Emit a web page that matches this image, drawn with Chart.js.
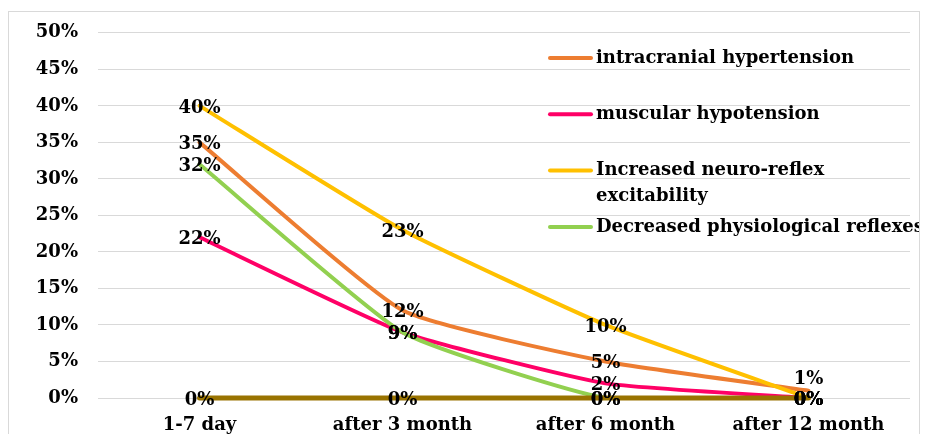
<!DOCTYPE html>
<html>
<head>
<meta charset="utf-8">
<script src="https://cdn.jsdelivr.net/npm/chart.js@4"></script>
<style>
    body { margin: 0; background: #fff; }
    #box {
        position: absolute; left: 8px; top: 11px;
        width: 910px; height: 430px;
        border: 1px solid #d9d9d9;
    }
</style>
</head>
<body>
<div id="box"><canvas id="symptomChart" width="910" height="422"></canvas></div>
<script>
// Chart data (percent)
const periods = ['1-7 day', 'after 3 month', 'after 6 month', 'after 12 month'];
const intracranialHypertension = [35, 12, 5, 1];
const muscularHypotension = [22, 9, 2, 0];
const neuroReflexExcitability = [40, 23, 10, 0];
const decreasedReflexes = [32, 9, 0, 0];
const baseline = [0, 0, 0, 0];
const yTicks = [0, 5, 10, 15, 20, 25, 30, 35, 40, 45, 50];

const FONT = 'bold 18px "DejaVu Serif"';

// Point value labels, centered on each point
const valueLabels = {
    id: 'valueLabels',
    afterDatasetsDraw(chart) {
        const ctx = chart.ctx;
        ctx.save();
        ctx.font = FONT;
        ctx.fillStyle = '#000';
        ctx.textAlign = 'center';
        ctx.textBaseline = 'middle';
        chart.data.datasets.forEach((ds, i) => {
            const meta = chart.getDatasetMeta(i);
            meta.data.forEach((pt, j) => {
                let y = pt.y + 2;
                // the 1% label sits just above the crowded 0% spot
                if (j === 3 && ds.data[j] === 1) y -= 13;
                ctx.fillText(ds.data[j] + '%', pt.x, y);
            });
        });
        ctx.restore();
    }
};

// Legend drawn inside the plot area, top right
const insideLegend = {
    id: 'insideLegend',
    afterDraw(chart) {
        const ctx = chart.ctx;
        ctx.save();
        ctx.font = FONT;
        ctx.fillStyle = '#000';
        ctx.textAlign = 'left';
        ctx.textBaseline = 'middle';
        let y = 46;
        chart.data.datasets.forEach(ds => {
            if (!ds.inLegend) return;
            ctx.strokeStyle = ds.borderColor;
            ctx.lineWidth = 4;
            ctx.lineCap = 'round';
            ctx.beginPath();
            ctx.moveTo(541, y);
            ctx.lineTo(582, y);
            ctx.stroke();
            const lines = Array.isArray(ds.label) ? ds.label : [ds.label];
            lines.forEach((t, k) => ctx.fillText(t, 587, y + k * 26));
            y += 56.3;
        });
        ctx.restore();
    }
};

const ctx = document.getElementById('symptomChart');
new Chart(ctx, {
    type: 'line',
    data: {
        labels: periods,
        datasets: [
            { label: 'intracranial hypertension', data: intracranialHypertension, borderColor: '#ED7D31', order: 5, inLegend: true },
            { label: 'muscular hypotension', data: muscularHypotension, borderColor: '#FF0066', order: 4, inLegend: true },
            { label: ['Increased neuro-reflex', 'excitability'], data: neuroReflexExcitability, borderColor: '#FFC000', order: 3, inLegend: true },
            { label: 'Decreased physiological reflexes', data: decreasedReflexes, borderColor: '#92D050', order: 2, inLegend: true, clip: 0 },
            { label: '', data: baseline, borderColor: '#997300', order: 1, inLegend: false, borderWidth: 5 }
        ].map(ds => Object.assign({
            borderWidth: 4,
            pointRadius: 0,
            fill: false,
            tension: 0.15,
            clip: 4,
            borderCapStyle: 'round'
        }, ds))
    },
    options: {
        responsive: false,
        animation: false,
        layout: { padding: { top: 9, right: 9, left: 0, bottom: 0 } },
        plugins: {
            legend: { display: false },
            tooltip: { enabled: false }
        },
        scales: {
            x: {
                offset: true,
                grid: { display: false, drawTicks: false },
                border: { display: false },
                ticks: { font: { family: 'DejaVu Serif', size: 18, weight: 'bold' }, color: '#000', padding: 17, maxRotation: 0 },
                afterFit(scale) { scale.height = 36; }
            },
            y: {
                min: 0,
                max: 50,
                afterBuildTicks(scale) { scale.ticks = yTicks.map(v => ({ value: v })); },
                grid: { color: '#d9d9d9', lineWidth: 1, drawTicks: true, tickLength: 10, tickColor: 'rgba(0,0,0,0)' },
                border: { display: false },
                ticks: {
                    font: { family: 'DejaVu Serif', size: 18, weight: 'bold' },
                    color: '#000',
                    padding: 10,
                    callback: v => v + '%'
                },
                afterFit(scale) { scale.width = 89; }
            }
        }
    },
    plugins: [valueLabels, insideLegend]
});
</script>
</body>
</html>
